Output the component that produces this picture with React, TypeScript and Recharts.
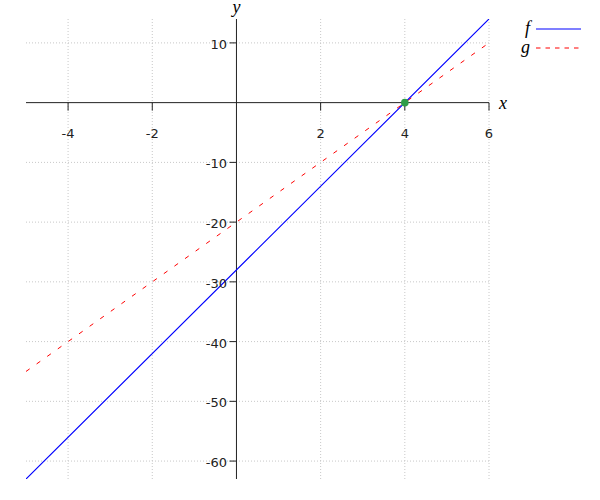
import React from "react";
import {
  ComposedChart,
  Label,
  Line,
  ReferenceDot,
  ReferenceLine,
  Scatter,
  XAxis,
  YAxis,
} from "recharts";

// tick values (0 is skipped on both axes, as in the plot)
const xTicks = [-4, -2, 2, 4, 6];
const yTicks = [10, -10, -20, -30, -40, -50, -60];

// both functions are straight lines, so the end points and the root are enough
const xs = [-5, 4, 6];
const fValues = [-63, 0, 14];
const gValues = [-45, 0, 10];
const roots = [{ x: 4, y: 0 }];

const fData = xs.map((x, i) => ({ x, y: fValues[i] }));
const gData = xs.map((x, i) => ({ x, y: gValues[i] }));

const AXIS = "#222";
const GRID = "#c8c8c8";
const TICK_FONT = { fontFamily: "DejaVu Sans", fontSize: 13, fill: "#222" };
const SERIF = "Liberation Serif";

function xTickShape(value: number) {
  return (p: { cx: number; cy: number }) => (
    <g>
      <line x1={p.cx} y1={p.cy} x2={p.cx} y2={p.cy + 8} stroke={AXIS} strokeWidth={1} />
      <text x={p.cx} y={p.cy + 35} textAnchor="middle" {...TICK_FONT}>
        {value}
      </text>
    </g>
  );
}

function yTickShape(value: number) {
  return (p: { cx: number; cy: number }) => (
    <g>
      <line x1={p.cx - 7} y1={p.cy} x2={p.cx} y2={p.cy} stroke={AXIS} strokeWidth={1} />
      <text x={p.cx - 9.5} y={p.cy + 6} textAnchor="end" {...TICK_FONT}>
        {value}
      </text>
    </g>
  );
}

function LegendBox() {
  const row = { display: "flex", alignItems: "center", height: 19 } as const;
  const letter = {
    fontFamily: SERIF,
    fontStyle: "italic",
    fontSize: 18,
    width: 16,
    textAlign: "right" as const,
    marginRight: 6,
    lineHeight: "19px",
  };
  return (
    <div style={{ position: "absolute", left: 514, top: 19 }}>
      <div style={row}>
        <span style={letter}>f</span>
        <svg width={46} height={6}>
          <line x1={0} y1={3} x2={45} y2={3} stroke="#0000ff" strokeWidth={1.2} />
        </svg>
      </div>
      <div style={row}>
        <span style={letter}>g</span>
        <svg width={46} height={6}>
          <line x1={0} y1={3} x2={45} y2={3} stroke="#ff0000" strokeWidth={1.2} strokeDasharray="4.5 5" />
        </svg>
      </div>
    </div>
  );
}

export default function App() {
  return (
    <div style={{ position: "absolute", left: 0, top: 0, width: 600, height: 500, background: "#fff" }}>
      <ComposedChart
        width={600}
        height={500}
        margin={{ top: 19, right: 111, bottom: 21, left: 26 }}
      >
        <XAxis
          type="number"
          dataKey="x"
          domain={[-5, 6]}
          ticks={xTicks}
          allowDataOverflow
          height={0}
          tick={false}
          tickLine={false}
          axisLine={false}
        />
        <YAxis
          type="number"
          dataKey="y"
          domain={[-63, 14]}
          ticks={yTicks}
          allowDataOverflow
          width={0}
          tick={false}
          tickLine={false}
          axisLine={false}
        />
        {xTicks.map((t) => (
          <ReferenceLine key={`gx${t}`} x={t} stroke={GRID} strokeDasharray="1 2" />
        ))}
        {yTicks.map((t) => (
          <ReferenceLine key={`gy${t}`} y={t} stroke={GRID} strokeDasharray="1 2" />
        ))}
        <ReferenceLine y={0} stroke={AXIS} strokeWidth={1}>
          <Label
            value="x"
            position="right"
            offset={10}
            fontFamily={SERIF}
            fontStyle="italic"
            fontSize={18}
            fill="#000"
          />
        </ReferenceLine>
        <ReferenceLine x={0} stroke={AXIS} strokeWidth={1}>
          <Label
            value="y"
            position="top"
            offset={6}
            fontFamily={SERIF}
            fontStyle="italic"
            fontSize={18}
            fill="#000"
          />
        </ReferenceLine>
        {xTicks.map((t) => (
          <ReferenceDot key={`xt${t}`} x={t} y={0} r={0} shape={xTickShape(t)} />
        ))}
        {yTicks.map((t) => (
          <ReferenceDot key={`yt${t}`} x={0} y={t} r={0} shape={yTickShape(t)} />
        ))}
        <Line
          data={gData}
          dataKey="y"
          type="linear"
          stroke="#ff0000"
          strokeWidth={1}
          strokeDasharray="4.5 8.5"
          dot={false}
          activeDot={false}
          isAnimationActive={false}
        />
        <Line
          data={fData}
          dataKey="y"
          type="linear"
          stroke="#0000ff"
          strokeWidth={1.2}
          dot={false}
          activeDot={false}
          isAnimationActive={false}
        />
        <Scatter
          data={roots}
          dataKey="y"
          fill="#2f9c48"
          isAnimationActive={false}
          shape={(p: { cx: number; cy: number }) => <circle cx={p.cx} cy={p.cy} r={3.8} fill="#2f9c48" />}
        />
      </ComposedChart>
      <LegendBox />
    </div>
  );
}
